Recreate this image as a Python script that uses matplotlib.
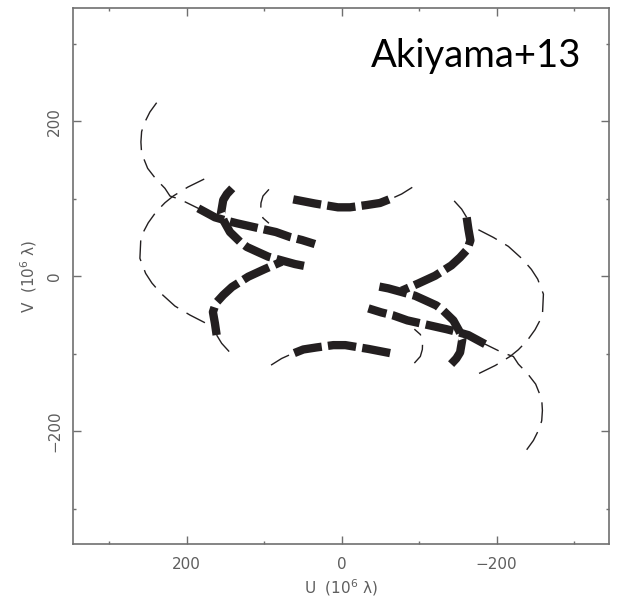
import matplotlib
matplotlib.use('Agg')
import matplotlib.pyplot as plt
from matplotlib.ticker import MultipleLocator

plt.rcParams['font.family'] = ['DejaVu Sans']
plt.rcParams['mathtext.fontset'] = 'dejavusans'

# ---- data (one half of the uv-plane, the other half is the conjugate (-u,-v)) ----
arcA_u = [238.7, 247.4, 254.7, 258.1, 259.0, 258.1, 250.3, 239.6, 228.0, 221.5, 208.6, 185.0, 163.5]
arcA_v = [223.9, 211.9, 197.3, 186.5, 173.2, 158.6, 139.2, 125.4, 113.4, 103.5, 99.2, 87.6, 76.0]
thickA_u = [185.0, 163.5, 149.3, 135.1, 108.0, 84.8, 66.7, 51.2, 34.5]
thickA_v = [87.6, 76.0, 71.9, 68.3, 62.2, 57.0, 50.6, 46.7, 41.5]

arcB_u = [177.3, 198.3, 217.3, 228.0, 239.6, 249.5, 259.0, 260.3, 252.9, 244.8, 233.2, 215.1, 195.7, 176.4]
arcB_v = [125.4, 115.1, 103.5, 94.8, 82.8, 69.0, 51.0, 23.1, 3.7, -8.8, -22.1, -38.5, -50.1, -60.0]

topT_u = [62.5, 34.5, 4.8, -10.7, -32.6, -49.4, -67.9]
topT_v = [99.2, 93.8, 88.9, 88.9, 91.9, 94.5, 101.8]
topThin_u = [-67.9, -77.4, -91.1]
topThin_v = [101.8, 106.1, 114.7]

smallArc_u = [93.8, 101.5, 104.1, 104.5, 101.5, 93.8]
smallArc_v = [112.1, 103.5, 94.5, 83.2, 75.1, 68.3]

trackP_u = [141.2, 148.0, 152.8, 155.7, 151.5, 144.1, 131.2, 122.2, 108.0, 94.7, 77.0, 60.3, 43.1]
trackP_v = [113.4, 106.1, 98.3, 81.2, 70.3, 57.0, 44.5, 37.7, 31.2, 25.2, 20.3, 15.7, 12.3]

trackC_u = [161.3, 163.5, 166.1, 162.2, 152.8, 141.5, 120.5, 99.0, 77.4]
trackC_v = [-75.9, -60.8, -46.2, -34.6, -24.3, -13.9, -0.6, 9.3, 18.7]
trackCthin_u = [161.3, 154.8, 139.9]
trackCthin_v = [-75.9, -86.6, -103.0]

thin_tracks = [(arcA_u, arcA_v), (arcB_u, arcB_v), (topThin_u, topThin_v),
               (smallArc_u, smallArc_v), (trackCthin_u, trackCthin_v)]
thick_tracks = [(thickA_u, thickA_v), (topT_u, topT_v), (trackP_u, trackP_v),
                (trackC_u, trackC_v)]

ink = '#231f20'
grey = '#6f6f6f'
txtgrey = '#5e5e5e'

fig = plt.figure(figsize=(6.17, 6.0), dpi=100)
ax = fig.add_axes([72.7 / 617, (600 - 544.3) / 600, 536.6 / 617, 536.3 / 600])

for s in (1, -1):
    for u, v in thin_tracks:
        ax.plot([s * x for x in u], [s * y for y in v], color=ink, lw=1.0,
                linestyle=(0, (15, 7)))
    for u, v in thick_tracks:
        ax.plot([s * x for x in u], [s * y for y in v], color=ink, lw=6.0,
                linestyle=(0, (3.4, 0.75)), dash_capstyle='butt',
                solid_capstyle='butt')

ax.set_xlim(347, -345.3)
ax.set_ylim(-345.9, 346.1)

ax.xaxis.set_major_locator(MultipleLocator(200))
ax.xaxis.set_minor_locator(MultipleLocator(100))
ax.yaxis.set_major_locator(MultipleLocator(200))
ax.yaxis.set_minor_locator(MultipleLocator(100))
ax.tick_params(which='both', direction='in', top=True, right=True, color=grey, width=1.0)
ax.tick_params(which='major', length=6)
ax.tick_params(which='minor', length=2.5)
ax.tick_params(axis='x', which='major', labelsize=11, labelcolor=txtgrey, pad=9)
ax.tick_params(axis='y', which='major', labelsize=11, labelcolor=txtgrey, pad=7.5, labelrotation=90)
for lab in ax.get_yticklabels():
    lab.set_va('center')
for sp in ax.spines.values():
    sp.set_color(grey)
    sp.set_linewidth(1.2)

ax.set_xlabel('U  (10$^6$ λ)', fontsize=11, color=txtgrey)
ax.set_ylabel('V  (10$^6$ λ)', fontsize=11, color=txtgrey)
ax.xaxis.label.set_va('center')
ax.yaxis.label.set_va('center')
ax.xaxis.set_label_coords(0.5, (544.3 - 588) / 536.3)
ax.yaxis.set_label_coords((29 - 72.7) / 536.6, 0.5)

fig.text(581 / 617, 1 - 67 / 600, 'Akiyama+13', family=['Lato', 'DejaVu Sans'],
         fontsize=27.5, color='black', ha='right', va='baseline')

fig.savefig('out.png', dpi=100)
